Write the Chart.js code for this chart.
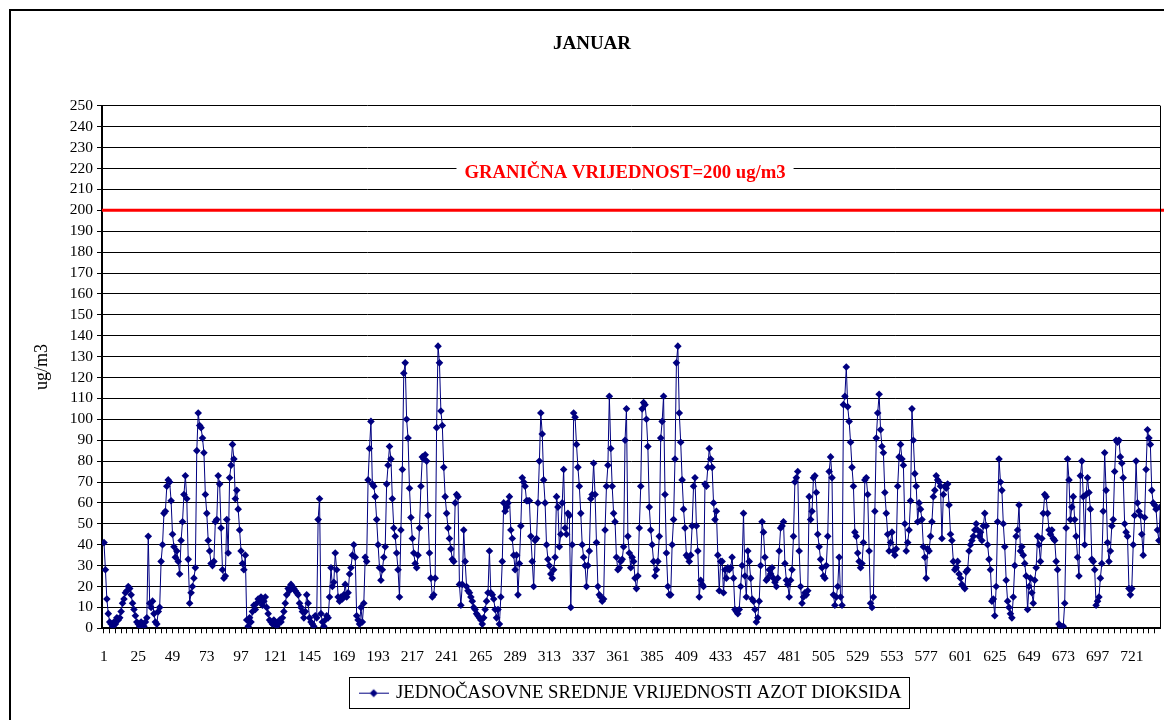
<!DOCTYPE html>
<html>
<head>
<meta charset="utf-8">
<title>JANUAR</title>
<script src="https://cdn.jsdelivr.net/npm/chart.js@4.4.1/dist/chart.umd.min.js"></script>
<style>
    html, body { margin: 0; padding: 0; background: #fff; }
    #wrap { position: relative; width: 1164px; height: 720px; overflow: hidden; }
    #frame { position: absolute; left: 9px; top: 9px; width: 1200px; height: 800px; border-left: 2px solid #000; border-top: 2px solid #000; }
    canvas { position: absolute; left: 0; top: 0; }
</style>
</head>
<body>
<div id="wrap">
    <div id="frame"></div>
    <canvas id="chart" width="1164" height="720"></canvas>
</div>
<script>
// hourly NO2 values, one array per day of January
const day01 = [41, 28, 14, 7, 3, 2, 1, 3, 2, 5, 4, 5, 8, 12, 14, 17, 18, 20, 19, 16, 12, 9, 6, 3];
const day02 = [2, 1, 3, 2, 1, 3, 5, 44, 12, 10, 13, 7, 3, 2, 8, 10, 32, 40, 55, 56, 68, 71, 70, 61];
const day03 = [45, 39, 34, 37, 32, 26, 42, 51, 64, 73, 62, 33, 12, 17, 20, 24, 29, 85, 103, 97, 96, 91, 84, 64];
const day04 = [55, 42, 37, 31, 30, 32, 51, 52, 73, 69, 48, 28, 24, 25, 52, 36, 72, 78, 88, 81, 62, 66, 57, 47];
const day05 = [37, 31, 28, 35, 4, 1, 5, 3, 8, 11, 9, 12, 14, 13, 15, 11, 13, 15, 10, 7, 4, 3, 2, 4];
const day06 = [3, 1, 2, 4, 3, 5, 8, 12, 16, 19, 18, 21, 20, 19, 18, 17, 16, 12, 10, 8, 5, 8, 16, 12];
const day07 = [5, 3, 2, 1, 6, 5, 52, 62, 7, 3, 1, 4, 6, 5, 15, 29, 20, 22, 36, 28, 15, 13, 15, 14];
const day08 = [16, 21, 15, 17, 26, 29, 35, 40, 34, 6, 4, 2, 10, 3, 12, 34, 32, 71, 86, 99, 69, 68, 63, 52];
const day09 = [40, 29, 23, 28, 34, 39, 69, 78, 87, 81, 62, 48, 44, 36, 28, 15, 47, 76, 122, 127, 100, 91, 67, 53];
const day10 = [43, 36, 31, 29, 35, 48, 68, 82, 81, 83, 80, 54, 36, 24, 15, 16, 24, 96, 135, 127, 104, 97, 77, 63];
const day11 = [55, 48, 43, 38, 33, 32, 60, 64, 63, 21, 11, 21, 47, 32, 20, 18, 17, 15, 13, 10, 9, 7, 6, 5];
const day12 = [4, 2, 5, 9, 13, 17, 37, 17, 16, 14, 9, 5, 9, 2, 15, 32, 60, 56, 58, 60, 63, 47, 43, 35];
const day13 = [28, 35, 16, 31, 49, 72, 70, 68, 61, 61, 61, 44, 32, 20, 42, 43, 60, 80, 103, 93, 71, 60, 40, 33];
const day14 = [30, 26, 24, 28, 34, 63, 58, 39, 45, 60, 76, 48, 45, 55, 54, 10, 40, 103, 101, 88, 77, 68, 55, 40];
const day15 = [34, 30, 20, 30, 37, 62, 64, 79, 64, 41, 20, 16, 15, 13, 14, 47, 68, 78, 111, 86, 68, 55, 51, 34];
const day16 = [28, 29, 32, 33, 39, 90, 105, 44, 36, 29, 34, 32, 24, 19, 25, 48, 68, 105, 108, 107, 100, 87, 58, 47];
const day17 = [40, 32, 25, 28, 32, 44, 91, 99, 111, 64, 36, 20, 16, 16, 40, 52, 81, 127, 135, 103, 89, 71, 57, 48];
const day18 = [35, 34, 32, 35, 49, 68, 72, 49, 37, 15, 23, 21, 20, 69, 68, 77, 86, 81, 77, 60, 52, 56, 35, 18];
const day19 = [32, 32, 17, 28, 24, 29, 28, 29, 34, 24, 9, 8, 7, 9, 20, 30, 55, 25, 15, 37, 32, 24, 14, 13];
const day20 = [9, 3, 5, 13, 30, 51, 46, 34, 23, 24, 28, 26, 29, 24, 22, 20, 24, 37, 48, 49, 51, 31, 23, 21];
const day21 = [15, 23, 28, 44, 70, 72, 75, 37, 20, 12, 15, 17, 16, 18, 63, 52, 56, 72, 73, 65, 45, 39, 33, 29];
const day22 = [25, 24, 30, 44, 75, 82, 72, 16, 11, 15, 20, 34, 15, 11, 107, 111, 125, 106, 99, 89, 77, 68, 46, 44];
const day23 = [36, 32, 29, 31, 41, 71, 72, 64, 37, 12, 10, 15, 56, 91, 103, 112, 95, 87, 84, 65, 55, 45, 37, 41];
const day24 = [46, 37, 35, 38, 68, 82, 88, 81, 78, 50, 37, 41, 47, 61, 105, 90, 74, 68, 51, 60, 57, 52, 39, 34];
const day25 = [24, 38, 37, 44, 51, 63, 66, 73, 71, 70, 68, 43, 64, 68, 67, 69, 59, 45, 42, 32, 28, 29, 32, 26];
const day26 = [24, 21, 20, 19, 27, 28, 37, 40, 42, 44, 47, 50, 47, 44, 46, 42, 49, 55, 49, 40, 33, 28, 13, 14];
const day27 = [6, 20, 51, 81, 70, 66, 50, 39, 23, 13, 10, 7, 5, 15, 30, 44, 47, 59, 37, 39, 35, 31, 25, 9];
const day28 = [20, 24, 17, 12, 23, 29, 44, 40, 32, 43, 55, 64, 63, 55, 47, 45, 47, 43, 42, 32, 28, 2, 1, 0];
const day29 = [1, 12, 48, 81, 71, 52, 58, 63, 52, 44, 34, 25, 73, 80, 63, 40, 64, 72, 65, 57, 33, 32, 28, 11];
const day30 = [13, 15, 24, 31, 56, 84, 66, 41, 32, 37, 49, 52, 75, 90, 89, 90, 82, 79, 72, 50, 46, 44, 19, 16];
const day31 = [19, 40, 54, 80, 60, 56, 54, 45, 35, 53, 76, 95, 91, 88, 66, 60, 59, 57, 47, 42, 58, 66, 58, 44];

const no2 = [].concat(day01, day02, day03, day04, day05, day06, day07, day08, day09, day10,
    day11, day12, day13, day14, day15, day16, day17, day18, day19, day20,
    day21, day22, day23, day24, day25, day26, day27, day28, day29, day30, day31);

// hour numbers 1..744; labels every 24 hours, tick marks every 4
const hours = no2.map((v, i) => i + 1);
const LABEL_EVERY = 24;
const TICK_EVERY = 4;
// visible window of the hour axis (the last hours run into the right edge)
const X_MIN = -0.4;
const X_MAX = 740.9;

const LIMIT = 200;
const LIMIT_LABEL = 'GRANIČNA VRIJEDNOST=200 ug/m3';
const LIMIT_LABEL_AT = 366;     // hour under the label
const LIMIT_LABEL_VALUE = 218;  // value where the label sits

const TITLE = 'JANUAR';
const Y_TITLE = 'ug/m3';
const SERIES_LABEL = 'JEDNOČASOVNE SREDNJE VRIJEDNOSTI AZOT DIOKSIDA';

const NAVY = '#000080';
const SERIF = "'Liberation Serif', 'Times New Roman', serif";

function makeLegendIcon() {
    const c = document.createElement('canvas');
    c.width = 30;
    c.height = 10;
    const g = c.getContext('2d');
    g.strokeStyle = NAVY;
    g.lineWidth = 1;
    g.beginPath();
    g.moveTo(0, 5.5);
    g.lineTo(30, 5.5);
    g.stroke();
    g.fillStyle = NAVY;
    g.beginPath();
    g.moveTo(15, 1.5);
    g.lineTo(19, 5.5);
    g.lineTo(15, 9.5);
    g.lineTo(11, 5.5);
    g.closePath();
    g.fill();
    return c;
}

const limitLine = {
    id: 'limitLine',
    beforeDatasetsDraw(chart) {
        const {ctx, chartArea, scales} = chart;
        const y = scales.y.getPixelForValue(LIMIT);
        ctx.save();
        ctx.strokeStyle = '#ff0000';
        ctx.lineWidth = 3;
        ctx.beginPath();
        ctx.moveTo(chartArea.left, y);
        ctx.lineTo(chart.width, y);
        ctx.stroke();

        ctx.font = 'bold 18.7px ' + SERIF;
        const tx = scales.x.getPixelForValue(LIMIT_LABEL_AT);
        const ty = scales.y.getPixelForValue(LIMIT_LABEL_VALUE);
        const w = ctx.measureText(LIMIT_LABEL).width;
        ctx.fillStyle = '#fff';
        ctx.fillRect(tx - w / 2 - 8, ty - 13, w + 16, 25);
        ctx.fillStyle = '#ff0000';
        ctx.textAlign = 'center';
        ctx.textBaseline = 'middle';
        ctx.fillText(LIMIT_LABEL, tx, ty);
        ctx.restore();
    },
    afterDraw(chart) {
        const {ctx, chartArea} = chart;
        ctx.save();
        ctx.strokeStyle = '#000';
        ctx.lineWidth = 1;
        ctx.beginPath();
        ctx.moveTo(Math.round(chartArea.right) + 0.5, chartArea.top);
        ctx.lineTo(Math.round(chartArea.right) + 0.5, chartArea.bottom);
        ctx.stroke();

        // box round the legend item
        const hb = chart.legend.legendHitBoxes[0];
        if (hb) {
            ctx.strokeRect(Math.round(hb.left - 12) + 0.5, Math.round(hb.top - 6) + 0.5,
                Math.round(hb.width + 19), Math.round(hb.height + 12));
        }
        ctx.restore();
    }
};

new Chart(document.getElementById('chart').getContext('2d'), {
    type: 'line',
    data: {
        datasets: [{
            label: SERIES_LABEL,
            data: no2.map((v, i) => ({x: hours[i], y: v})),
            borderColor: NAVY,
            backgroundColor: NAVY,
            borderWidth: 1,
            pointStyle: 'rectRot',
            pointRadius: 3.8,
            pointBorderWidth: 0,
            pointHoverRadius: 3.8
        }]
    },
    options: {
        responsive: false,
        animation: false,
        events: [],
        layout: {
            padding: {left: 22, top: 12, right: 2, bottom: 8}
        },
        plugins: {
            title: {
                display: true,
                text: TITLE,
                color: '#000',
                font: {family: SERIF, size: 19, weight: 'bold'},
                padding: {top: 21, bottom: 50}
            },
            legend: {
                display: true,
                position: 'bottom',
                fullSize: false,
                labels: {
                    color: '#000',
                    font: {family: SERIF, size: 18.7},
                    usePointStyle: true,
                    pointStyle: makeLegendIcon(),
                    pointStyleWidth: 26,
                    padding: 15
                }
            },
            tooltip: {enabled: false}
        },
        scales: {
            x: {
                type: 'linear',
                min: X_MIN,
                max: X_MAX,
                grid: {
                    drawOnChartArea: false,
                    drawTicks: true,
                    tickLength: 5,
                    tickColor: '#000'
                },
                border: {color: '#000', width: 2},
                afterBuildTicks: (scale) => {
                    const ticks = [];
                    for (let i = 0; i < hours.length; i += TICK_EVERY) {
                        if (hours[i] <= X_MAX) {
                            ticks.push({value: hours[i]});
                        }
                    }
                    scale.ticks = ticks;
                },
                ticks: {
                    autoSkip: false,
                    maxRotation: 0,
                    minRotation: 0,
                    padding: 2,
                    color: '#000',
                    font: {family: SERIF, size: 15.5, lineHeight: '44px'},
                    callback: (value) => (value - 1) % LABEL_EVERY === 0 ? String(value) : ''
                },
                afterFit: (scale) => {
                    scale.height = 40;
                }
            },
            y: {
                min: 0,
                max: 250,
                ticks: {
                    stepSize: 10,
                    autoSkip: false,
                    padding: 4,
                    color: '#000',
                    font: {family: SERIF, size: 15.5}
                },
                grid: {color: '#000', lineWidth: 1, tickLength: 5},
                border: {color: '#000', width: 2},
                title: {
                    display: true,
                    text: Y_TITLE,
                    color: '#000',
                    font: {family: SERIF, size: 18},
                    padding: {top: 9, bottom: 0}
                },
                afterFit: (scale) => {
                    scale.width = 80;
                }
            }
        }
    },
    plugins: [limitLine]
});
</script>
</body>
</html>
